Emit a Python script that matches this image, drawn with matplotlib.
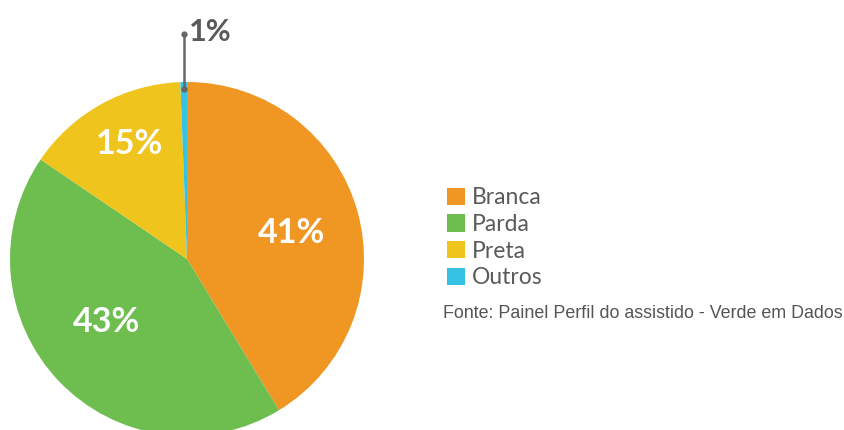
import numpy as np
import matplotlib
matplotlib.use('Agg')
import matplotlib.pyplot as plt

# data
categories = ['Branca', 'Parda', 'Preta', 'Outros']
shares = [41.3, 43.2, 14.9, 0.6]
colors = ['#F09623', '#6DBE4F', '#EFC41D', '#35C2E3']
source = 'Fonte: Painel Perfil do assistido - Verde em Dados'

W, H = 844, 430
fig = plt.figure(figsize=(W / 100, H / 100), dpi=100)

# pie centre (187, 259) px, radius 177 px
cx, cy, r = 187, 259, 177
ax = fig.add_axes([(cx - r) / W, (H - cy - r) / H, 2 * r / W, 2 * r / H])

wedges, texts, autotexts = ax.pie(
    shares, colors=colors, startangle=90, counterclock=False,
    autopct=lambda p: '{:.0f}%'.format(p), pctdistance=0.6,
    wedgeprops=dict(linewidth=0),
    textprops=dict(color='white', fontsize=24.5, family='Lato', fontweight='bold'))
ax.set_xlim(-1, 1)
ax.set_ylim(-1, 1)
ax.set_aspect('equal')

# nudge the labels like in the original
radii = [0.606, 0.578, 0.727]
dang = [-1.85, -5.9, -2.5]
for i, t in enumerate(autotexts[:3]):
    w = wedges[i]
    a = np.deg2rad((w.theta1 + w.theta2) / 2 + dang[i])
    t.set_position((radii[i] * np.cos(a), radii[i] * np.sin(a)))

# small slice gets an outside label with a leader line
autotexts[3].set_visible(False)
w = wedges[3]
a = np.deg2rad((w.theta1 + w.theta2) / 2)
x0, y0 = 0.96 * np.cos(a), 0.96 * np.sin(a)
ax.plot([x0, x0], [y0, 1.27], '-', color='#666666', lw=1.8, clip_on=False)
ax.plot([x0, x0], [y0, 1.27], 'o', color='#666666', ms=3.5, clip_on=False)
ax.text(x0 + 0.03, 1.28, '{:.0f}%'.format(shares[3]), color='#5a5a5a',
        fontsize=22, family='Lato', fontweight='bold', va='center', ha='left')

leg = fig.legend(wedges, categories, loc='upper left',
                 bbox_to_anchor=(436 / W, 1 - 176 / H), frameon=False,
                 prop=dict(family='Lato', size=16.5),
                 labelcolor='#5a5a5a',
                 handlelength=0.78, handleheight=0.78, handletextpad=0.3,
                 labelspacing=0.245, borderpad=0)

fig.text(443 / W, 1 - 313 / H, source, fontsize=12.9,
         family='Liberation Sans', color='#555555', va='center', ha='left')

plt.savefig('out.png', dpi=100)
